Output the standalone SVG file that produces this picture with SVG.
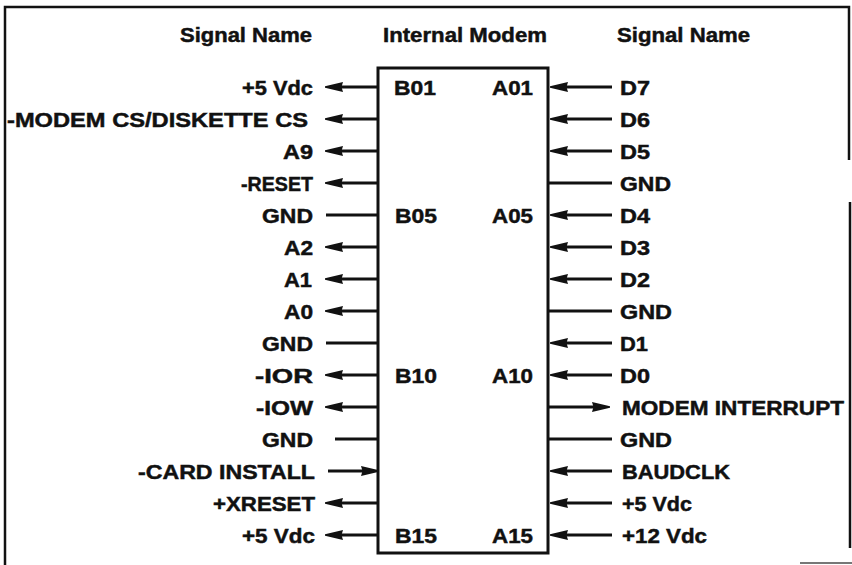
<svg xmlns="http://www.w3.org/2000/svg" width="852" height="565" viewBox="0 0 852 565">
<style>
text{font-family:"Liberation Sans",Arial,sans-serif;font-weight:bold;font-size:19.5px;fill:#111;stroke:#111;stroke-width:0.45}
.h{font-size:19.5px}
.l{text-anchor:end}
.c{stroke:#111;stroke-width:3;fill:none}
.f{stroke:#111;stroke-width:2.5;fill:none}
.box{stroke:#111;stroke-width:3;fill:#fff}
</style>
<defs>
<marker id="ah" viewBox="0 0 18 11" refX="8" refY="5.5" markerWidth="18" markerHeight="11" markerUnits="userSpaceOnUse" orient="auto">
<path d="M0,0.5 L18,4.7 L18,6.3 L0,10.5 L1.5,5.5 Z" fill="#111"/>
</marker>
</defs>
<g id="frame">
<path class="f" d="M5,565 L5,7 L849,7 L849,160"/>
<path class="f" d="M850,202 L850,548"/>
<path d="M800,563 L852,563" stroke="#777" stroke-width="2"/>
</g>
<g id="headings">
<text class="h" x="180" y="42" textLength="132" lengthAdjust="spacingAndGlyphs">Signal Name</text>
<text class="h" x="383" y="42" textLength="164" lengthAdjust="spacingAndGlyphs">Internal Modem</text>
<text class="h" x="617" y="42" textLength="133" lengthAdjust="spacingAndGlyphs">Signal Name</text>
</g>
<g id="modem">
<rect class="box" x="378" y="68" width="170" height="485"/>
<text x="394" y="94.5" textLength="42" lengthAdjust="spacingAndGlyphs">B01</text>
<text x="492" y="94.5" textLength="41" lengthAdjust="spacingAndGlyphs">A01</text>
<text x="395" y="222.5" textLength="42" lengthAdjust="spacingAndGlyphs">B05</text>
<text x="492" y="222.5" textLength="41" lengthAdjust="spacingAndGlyphs">A05</text>
<text x="395" y="382.5" textLength="42" lengthAdjust="spacingAndGlyphs">B10</text>
<text x="492" y="382.5" textLength="41" lengthAdjust="spacingAndGlyphs">A10</text>
<text x="395" y="542.5" textLength="42" lengthAdjust="spacingAndGlyphs">B15</text>
<text x="492" y="542.5" textLength="41" lengthAdjust="spacingAndGlyphs">A15</text>
</g>
<g id="connectors">
<line class="c" x1="378" y1="87" x2="335" y2="87" marker-end="url(#ah)"/>
<line class="c" x1="378" y1="119" x2="335" y2="119" marker-end="url(#ah)"/>
<line class="c" x1="378" y1="151" x2="335" y2="151" marker-end="url(#ah)"/>
<line class="c" x1="378" y1="183" x2="335" y2="183" marker-end="url(#ah)"/>
<line class="c" x1="378" y1="215" x2="326" y2="215"/>
<line class="c" x1="378" y1="247" x2="335" y2="247" marker-end="url(#ah)"/>
<line class="c" x1="378" y1="279" x2="335" y2="279" marker-end="url(#ah)"/>
<line class="c" x1="378" y1="311" x2="335" y2="311" marker-end="url(#ah)"/>
<line class="c" x1="378" y1="343" x2="326" y2="343"/>
<line class="c" x1="378" y1="375" x2="335" y2="375" marker-end="url(#ah)"/>
<line class="c" x1="378" y1="407" x2="335" y2="407" marker-end="url(#ah)"/>
<line class="c" x1="378" y1="439" x2="335" y2="439"/>
<line class="c" x1="328" y1="471" x2="369" y2="471" marker-end="url(#ah)"/>
<line class="c" x1="378" y1="503" x2="335" y2="503" marker-end="url(#ah)"/>
<line class="c" x1="378" y1="535" x2="335" y2="535" marker-end="url(#ah)"/>

<line class="c" x1="612" y1="87" x2="560" y2="87" marker-end="url(#ah)"/>
<line class="c" x1="612" y1="119" x2="560" y2="119" marker-end="url(#ah)"/>
<line class="c" x1="612" y1="151" x2="560" y2="151" marker-end="url(#ah)"/>
<line class="c" x1="548" y1="183" x2="612" y2="183"/>
<line class="c" x1="612" y1="215" x2="560" y2="215" marker-end="url(#ah)"/>
<line class="c" x1="612" y1="247" x2="560" y2="247" marker-end="url(#ah)"/>
<line class="c" x1="612" y1="279" x2="560" y2="279" marker-end="url(#ah)"/>
<line class="c" x1="548" y1="311" x2="612" y2="311"/>
<line class="c" x1="612" y1="343" x2="560" y2="343" marker-end="url(#ah)"/>
<line class="c" x1="612" y1="375" x2="560" y2="375" marker-end="url(#ah)"/>
<line class="c" x1="548" y1="407" x2="600" y2="407" marker-end="url(#ah)"/>
<line class="c" x1="548" y1="439" x2="612" y2="439"/>
<line class="c" x1="612" y1="471" x2="560" y2="471" marker-end="url(#ah)"/>
<line class="c" x1="612" y1="503" x2="560" y2="503" marker-end="url(#ah)"/>
<line class="c" x1="612" y1="535" x2="560" y2="535" marker-end="url(#ah)"/>
</g>
<g id="left-signals">
<text class="l" x="313" y="94.5" textLength="71" lengthAdjust="spacingAndGlyphs">+5 Vdc</text>
<text x="7" y="126.5" textLength="301" lengthAdjust="spacingAndGlyphs">-MODEM CS/DISKETTE CS</text>
<text class="l" x="313" y="158.5" textLength="30" lengthAdjust="spacingAndGlyphs">A9</text>
<text class="l" x="313" y="190.5" textLength="72" lengthAdjust="spacingAndGlyphs">-RESET</text>
<text class="l" x="313" y="222.5" textLength="51" lengthAdjust="spacingAndGlyphs">GND</text>
<text class="l" x="313" y="254.5" textLength="29" lengthAdjust="spacingAndGlyphs">A2</text>
<text class="l" x="312" y="286.5" textLength="28" lengthAdjust="spacingAndGlyphs">A1</text>
<text class="l" x="313" y="318.5" textLength="29" lengthAdjust="spacingAndGlyphs">A0</text>
<text class="l" x="313" y="350.5" textLength="51" lengthAdjust="spacingAndGlyphs">GND</text>
<text class="l" x="313" y="382.5" textLength="58" lengthAdjust="spacingAndGlyphs">-IOR</text>
<text class="l" x="313" y="414.5" textLength="57" lengthAdjust="spacingAndGlyphs">-IOW</text>
<text class="l" x="313" y="446.5" textLength="51" lengthAdjust="spacingAndGlyphs">GND</text>
<text class="l" x="315" y="478.5" textLength="177" lengthAdjust="spacingAndGlyphs">-CARD INSTALL</text>
<text class="l" x="315" y="510.5" textLength="102" lengthAdjust="spacingAndGlyphs">+XRESET</text>
<text class="l" x="315" y="542.5" textLength="73" lengthAdjust="spacingAndGlyphs">+5 Vdc</text>
</g>
<g id="right-signals">
<text x="620" y="94.5" textLength="30" lengthAdjust="spacingAndGlyphs">D7</text>
<text x="620" y="126.5" textLength="30" lengthAdjust="spacingAndGlyphs">D6</text>
<text x="620" y="158.5" textLength="30" lengthAdjust="spacingAndGlyphs">D5</text>
<text x="620" y="190.5" textLength="51" lengthAdjust="spacingAndGlyphs">GND</text>
<text x="620" y="222.5" textLength="30" lengthAdjust="spacingAndGlyphs">D4</text>
<text x="620" y="254.5" textLength="30" lengthAdjust="spacingAndGlyphs">D3</text>
<text x="620" y="286.5" textLength="30" lengthAdjust="spacingAndGlyphs">D2</text>
<text x="620" y="318.5" textLength="52" lengthAdjust="spacingAndGlyphs">GND</text>
<text x="620" y="350.5" textLength="28" lengthAdjust="spacingAndGlyphs">D1</text>
<text x="620" y="382.5" textLength="30" lengthAdjust="spacingAndGlyphs">D0</text>
<text x="622" y="414.5" textLength="222" lengthAdjust="spacingAndGlyphs">MODEM INTERRUPT</text>
<text x="620" y="446.5" textLength="52" lengthAdjust="spacingAndGlyphs">GND</text>
<text x="622" y="478.5" textLength="108" lengthAdjust="spacingAndGlyphs">BAUDCLK</text>
<text x="622" y="510.5" textLength="70" lengthAdjust="spacingAndGlyphs">+5 Vdc</text>
<text x="622" y="542.5" textLength="85" lengthAdjust="spacingAndGlyphs">+12 Vdc</text>
</g>
</svg>
